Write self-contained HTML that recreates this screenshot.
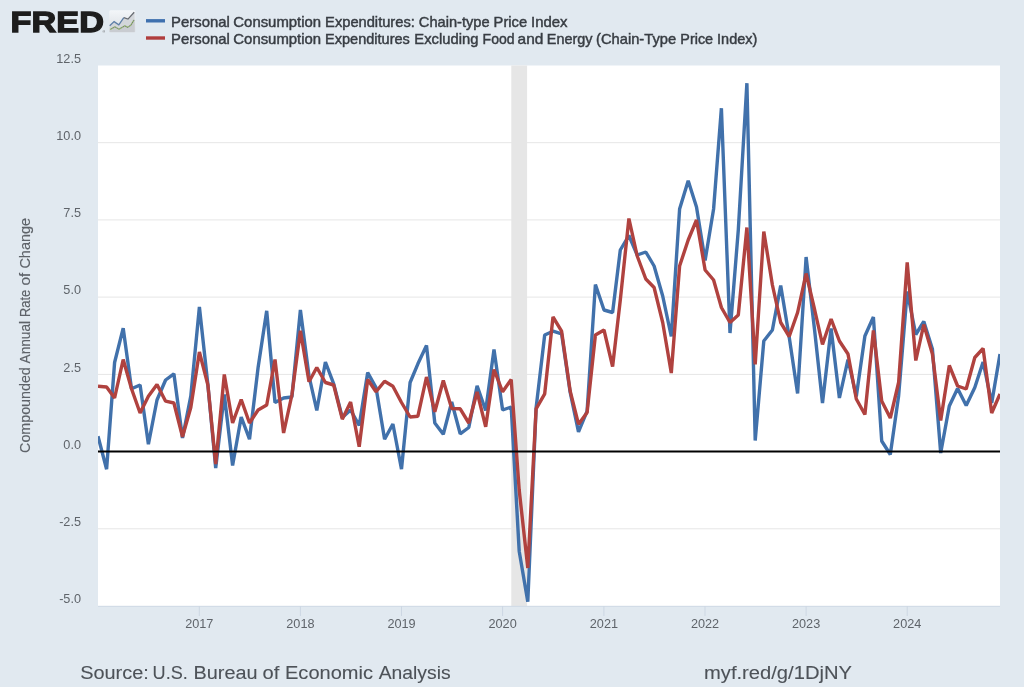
<!DOCTYPE html>
<html lang="en">
<head>
<meta charset="utf-8">
<title>FRED Graph</title>
<style>
html,body{margin:0;padding:0;}
body{width:1024px;height:687px;overflow:hidden;background:#e1e9f0;font-family:"Liberation Sans",sans-serif;}
svg{display:block;filter:blur(0.45px);}
text{font-family:"Liberation Sans",sans-serif;}
.lab{font-size:12.7px;fill:#5f646a;}
.leg{font-size:14.5px;fill:#383d43;stroke:#383d43;stroke-width:0.45px;}
.foot{font-size:18.9px;fill:#4d5258;stroke:#4d5258;stroke-width:0.1px;}
</style>
</head>
<body>
<svg width="1024" height="687" viewBox="0 0 1024 687">
  <defs>
    <linearGradient id="icg" x1="0" y1="0" x2="0" y2="1">
      <stop offset="0" stop-color="#f3f6f9"/>
      <stop offset="1" stop-color="#d9dde2"/>
    </linearGradient>
    <clipPath id="plotclip"><rect x="98" y="65.5" width="902" height="540.5"/></clipPath>
  </defs>
  <rect x="0" y="0" width="1024" height="687" fill="#e1e9f0"/>

  <!-- logo -->
  <text x="10.6" y="32.2" font-size="30" font-weight="bold" fill="#1d1d1d" stroke="#1d1d1d" stroke-width="1.3" textLength="93.3" lengthAdjust="spacingAndGlyphs">FRED</text>
  <text x="102.5" y="33" font-size="3.5" fill="#555">®</text>
  <g>
    <rect x="109.2" y="10.2" width="26.2" height="22.3" rx="1.5" fill="url(#icg)"/>
    <path d="M109.7 26.3 L114.1 22.1 L118.8 25.3 L123.8 18.1 L128 19.6 L134.6 12.4 L134.6 32 L109.7 32 Z" fill="#d3d6da"/>
    <path d="M109.7 29.8 L114.9 27.1 L119.1 29.5 L124.8 26.1 L127.7 27.6 L130.7 25.6 L134.6 19.8 L134.6 32 L109.7 32 Z" fill="#c9ccd1"/>
    <path d="M109.7 25.8 L114.1 21.6 L118.8 24.8 L123.8 17.6" fill="none" stroke="#5d7ea6" stroke-width="1.3"/>
    <path d="M123.8 17.6 L128 19.1 L134.2 12.2" fill="none" stroke="#666a70" stroke-width="1.3"/>
    <path d="M110.1 29.5 L114.9 26.8 L119.1 29.2 L124.8 25.8 L127.7 27.3 L130.7 25.3 L134.2 19.8" fill="none" stroke="#8fb765" stroke-width="1.3" stroke-dasharray="1.4 0.9"/>
    <path d="M110.1 29.5 L114.9 26.8 L119.1 29.2 L124.8 25.8 L127.7 27.3 L130.7 25.3 L134.2 19.8" fill="none" stroke="#6d7468" stroke-width="1.1" stroke-dasharray="0.9 1.4" stroke-dashoffset="-1.4"/>
  </g>

  <!-- legend -->
  <rect x="146" y="19.1" width="19" height="3.4" fill="#3f70ae"/>
  <rect x="146" y="36.3" width="19" height="3.4" fill="#b03d3d"/>
  <text class="leg" y="26.6"><tspan x="171.10" textLength="58.75" lengthAdjust="spacingAndGlyphs">Personal</tspan> <tspan x="233.35" textLength="87.75" lengthAdjust="spacingAndGlyphs">Consumption</tspan> <tspan x="325.10" textLength="89.75" lengthAdjust="spacingAndGlyphs">Expenditures:</tspan> <tspan x="418.85" textLength="70.75" lengthAdjust="spacingAndGlyphs">Chain-type</tspan> <tspan x="493.60" textLength="33.50" lengthAdjust="spacingAndGlyphs">Price</tspan> <tspan x="531.10" textLength="36.50" lengthAdjust="spacingAndGlyphs">Index</tspan></text>
  <text class="leg" y="43.6"><tspan x="171.10" textLength="58.75" lengthAdjust="spacingAndGlyphs">Personal</tspan> <tspan x="233.35" textLength="87.75" lengthAdjust="spacingAndGlyphs">Consumption</tspan> <tspan x="325.10" textLength="84.75" lengthAdjust="spacingAndGlyphs">Expenditures</tspan> <tspan x="414.35" textLength="64.00" lengthAdjust="spacingAndGlyphs">Excluding</tspan> <tspan x="482.60" textLength="32.00" lengthAdjust="spacingAndGlyphs">Food</tspan> <tspan x="517.60" textLength="25.75" lengthAdjust="spacingAndGlyphs">and</tspan> <tspan x="546.85" textLength="45.75" lengthAdjust="spacingAndGlyphs">Energy</tspan> <tspan x="596.10" textLength="80.00" lengthAdjust="spacingAndGlyphs">(Chain-Type</tspan> <tspan x="680.35" textLength="32.75" lengthAdjust="spacingAndGlyphs">Price</tspan> <tspan x="717.10" textLength="40.25" lengthAdjust="spacingAndGlyphs">Index)</tspan></text>

  <!-- plot area -->
  <rect x="98" y="65.5" width="902" height="540.5" fill="#ffffff"/>
  <rect x="511.3" y="65.5" width="15.8" height="540.5" fill="#e6e6e6"/>
  <g stroke="#e6e6e6" stroke-width="1">
    <line x1="98" x2="1000" y1="142.7" y2="142.7"/>
    <line x1="98" x2="1000" y1="219.9" y2="219.9"/>
    <line x1="98" x2="1000" y1="297.1" y2="297.1"/>
    <line x1="98" x2="1000" y1="374.4" y2="374.4"/>
    <line x1="98" x2="1000" y1="528.8" y2="528.8"/>
  </g>
  <line x1="98" x2="1000" y1="606.3" y2="606.3" stroke="#cfd9e5" stroke-width="1"/>
  <g stroke="#cdd7e3" stroke-width="1">
    <line x1="199.3" x2="199.3" y1="606" y2="616"/>
    <line x1="300.4" x2="300.4" y1="606" y2="616"/>
    <line x1="401.5" x2="401.5" y1="606" y2="616"/>
    <line x1="502.6" x2="502.6" y1="606" y2="616"/>
    <line x1="603.9" x2="603.9" y1="606" y2="616"/>
    <line x1="705.0" x2="705.0" y1="606" y2="616"/>
    <line x1="806.1" x2="806.1" y1="606" y2="616"/>
    <line x1="907.2" x2="907.2" y1="606" y2="616"/>
  </g>

  <!-- y labels -->
  <g class="lab" text-anchor="end">
    <text x="81" y="62.7">12.5</text>
    <text x="81" y="139.9">10.0</text>
    <text x="81" y="217.1">7.5</text>
    <text x="81" y="294.3">5.0</text>
    <text x="81" y="371.6">2.5</text>
    <text x="81" y="448.8">0.0</text>
    <text x="81" y="526.0">-2.5</text>
    <text x="81" y="603.2">-5.0</text>
  </g>
  <!-- x labels -->
  <g class="lab" text-anchor="middle">
    <text x="199.3" y="628">2017</text>
    <text x="300.4" y="628">2018</text>
    <text x="401.5" y="628">2019</text>
    <text x="502.6" y="628">2020</text>
    <text x="603.9" y="628">2021</text>
    <text x="705.0" y="628">2022</text>
    <text x="806.1" y="628">2023</text>
    <text x="907.2" y="628">2024</text>
  </g>
  <text font-size="14.4" fill="#5e6369" stroke="#5e6369" stroke-width="0.15" transform="translate(30.4,452) rotate(-90)"><tspan x="-0.90" textLength="85.70" lengthAdjust="spacingAndGlyphs">Compounded</tspan> <tspan x="88.60" textLength="42.40" lengthAdjust="spacingAndGlyphs">Annual</tspan> <tspan x="135.10" textLength="27.10" lengthAdjust="spacingAndGlyphs">Rate</tspan> <tspan x="166.40" textLength="12.80" lengthAdjust="spacingAndGlyphs">of</tspan> <tspan x="183.40" textLength="50.70" lengthAdjust="spacingAndGlyphs">Change</tspan></text>

  <!-- series -->
  <g clip-path="url(#plotclip)" fill="none" stroke-linejoin="bevel" stroke-linecap="butt">
    <polyline stroke="#4171ab" stroke-width="3.4" points="98.0,436.2 106.6,469.2 114.6,362.5 123.2,328.2 131.5,388.8 140.1,385.0 148.4,444.2 157.0,400.0 165.6,380.0 173.9,373.8 182.5,438.0 190.8,396.2 199.4,307.0 207.9,385.0 215.7,468.0 224.3,394.5 232.6,465.5 241.2,417.0 249.5,439.2 258.1,367.5 266.7,310.8 275.0,402.5 283.6,398.0 291.9,397.0 300.4,310.0 309.0,376.0 316.8,410.5 325.4,362.0 333.7,383.8 342.3,417.5 350.6,410.0 359.2,425.5 367.7,372.5 376.0,387.5 384.6,439.2 392.9,424.0 401.5,469.2 410.1,382.5 417.9,363.8 426.5,345.5 434.8,423.0 443.3,434.2 451.7,402.0 460.2,433.8 468.8,427.5 477.1,385.8 485.7,410.5 494.0,349.5 502.6,410.0 511.2,407.0 519.2,551.2 527.8,601.8 536.1,408.0 544.7,335.0 553.0,331.2 561.6,333.8 570.2,392.5 578.5,431.8 587.1,411.2 595.4,284.5 604.0,310.0 612.6,312.5 620.3,250.0 628.9,235.5 637.2,255.0 645.8,252.0 654.1,266.0 662.7,296.0 671.3,336.5 679.6,209.0 688.2,180.8 696.5,207.0 705.1,260.5 713.6,209.0 721.4,108.2 730.0,333.0 738.3,230.0 746.9,83.2 755.2,440.5 763.8,341.0 772.4,330.0 780.7,285.5 789.2,337.0 797.6,393.5 806.1,257.0 814.7,331.0 822.5,403.0 831.1,328.5 839.4,398.0 848.0,359.5 856.3,396.5 864.9,336.0 873.4,317.0 881.7,441.0 890.3,454.5 898.6,396.0 907.2,291.5 915.8,334.5 923.8,321.5 932.4,349.0 940.7,453.0 949.3,406.0 957.6,388.5 966.2,405.5 974.8,387.5 983.1,362.0 991.7,403.0 1000.0,354.0"/>
    <polyline stroke="#b0423f" stroke-width="3.4" points="98.0,386.2 106.6,387.0 114.6,398.0 123.2,359.5 131.5,388.8 140.1,413.0 148.4,396.2 157.0,384.5 165.6,401.2 173.9,403.0 182.5,436.8 190.8,407.5 199.4,352.0 207.9,385.0 215.7,464.2 224.3,374.5 232.6,423.0 241.2,399.5 249.5,423.0 258.1,410.0 266.7,405.0 275.0,359.5 283.6,433.0 291.9,395.0 300.4,330.8 309.0,381.8 316.8,367.5 325.4,382.5 333.7,385.0 342.3,419.2 350.6,402.0 359.2,446.8 367.7,379.5 376.0,391.8 384.6,381.2 392.9,386.2 401.5,402.5 410.1,417.0 417.9,416.2 426.5,377.0 434.8,411.8 443.3,380.5 451.7,408.5 460.2,408.8 468.8,423.0 477.1,392.0 485.7,426.8 494.0,369.5 502.6,391.8 511.2,379.5 519.2,490.0 527.8,568.0 536.1,408.8 544.7,393.8 553.0,317.0 561.6,331.2 570.2,391.2 578.5,424.2 587.1,412.5 595.4,335.0 604.0,330.0 612.6,366.5 620.3,300.0 628.9,218.5 637.2,256.0 645.8,279.0 654.1,287.5 662.7,322.5 671.3,373.0 679.6,266.0 688.2,240.0 696.5,220.0 705.1,270.0 713.6,280.0 721.4,307.5 730.0,322.5 738.3,315.0 746.9,227.5 755.2,364.5 763.8,231.5 772.4,285.0 780.7,322.5 789.2,336.5 797.6,312.5 806.1,273.5 814.7,310.0 822.5,344.5 831.1,319.0 839.4,341.0 848.0,354.0 856.3,399.0 864.9,414.5 873.4,330.5 881.7,401.0 890.3,418.0 898.6,382.5 907.2,262.3 915.8,360.5 923.8,324.5 932.4,354.0 940.7,420.5 949.3,365.5 957.6,386.0 966.2,389.0 974.8,357.5 983.1,348.5 991.7,413.0 1000.0,394.0"/>
  </g>
  <line x1="98" x2="1000" y1="451.5" y2="451.5" stroke="#000000" stroke-width="2"/>

  <!-- footer -->
  <text class="foot" y="678.6"><tspan x="80.20" textLength="68.60" lengthAdjust="spacingAndGlyphs">Source:</tspan> <tspan x="152.60" textLength="35.20" lengthAdjust="spacingAndGlyphs">U.S.</tspan> <tspan x="193.50" textLength="64.00" lengthAdjust="spacingAndGlyphs">Bureau</tspan> <tspan x="262.50" textLength="16.80" lengthAdjust="spacingAndGlyphs">of</tspan> <tspan x="285.00" textLength="88.00" lengthAdjust="spacingAndGlyphs">Economic</tspan> <tspan x="378.70" textLength="71.90" lengthAdjust="spacingAndGlyphs">Analysis</tspan></text>
  <text class="foot" x="704" y="678.6" textLength="148" lengthAdjust="spacingAndGlyphs">myf.red/g/1DjNY</text>
</svg>
</body>
</html>
